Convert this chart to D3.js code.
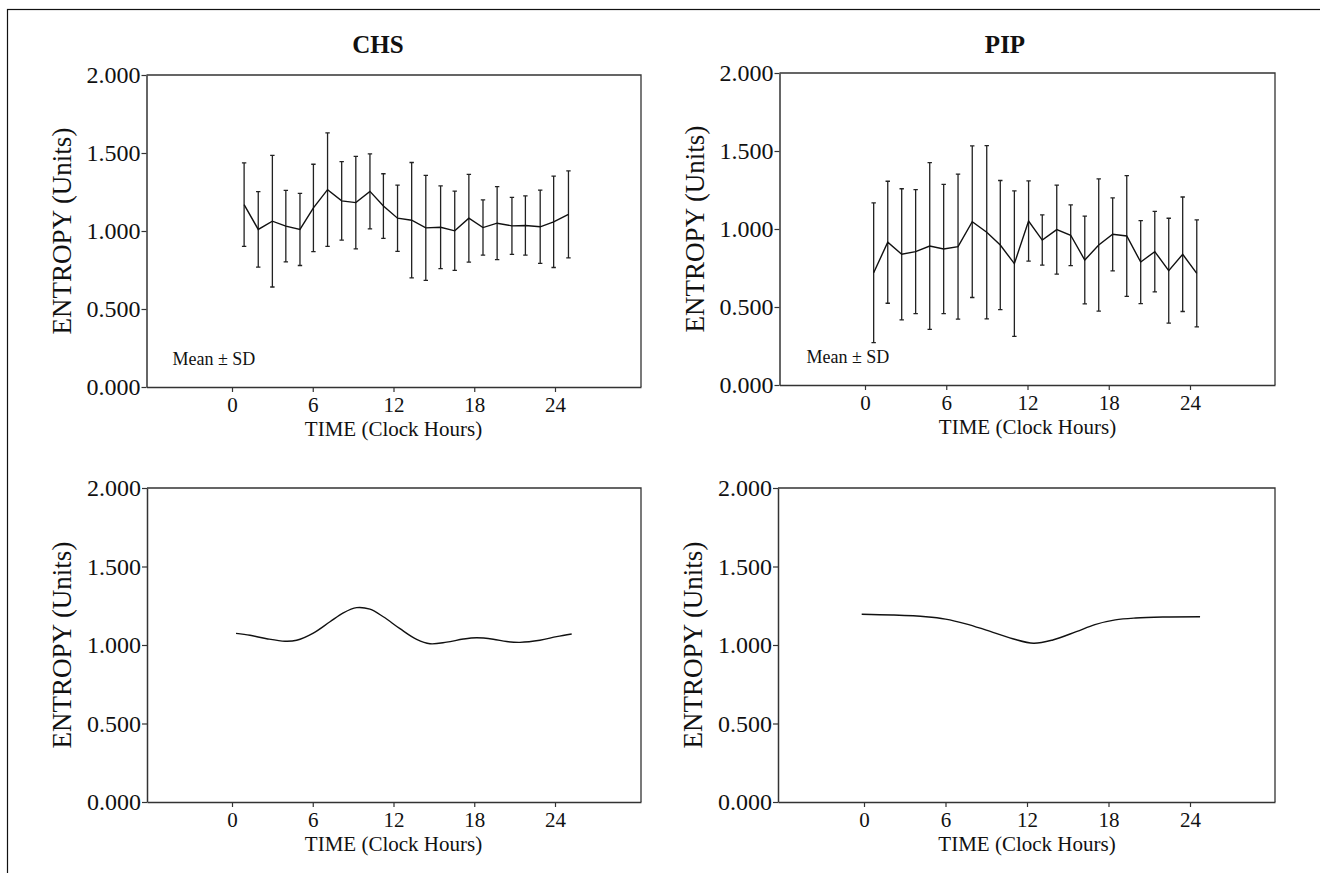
<!DOCTYPE html>
<html>
<head>
<meta charset="utf-8">
<script src="https://cdn.jsdelivr.net/npm/d3@7"></script>
<style>
  body { margin: 0; background: #fff; }
  svg { display: block; }
  text { font-family: "Liberation Serif", "Times New Roman", serif; fill: #111; }
</style>
</head>
<body>
<div id="chart"></div>
<script>
// hours (clock) and mean +- SD of entropy
const chsHours = [0.9, 1.95, 3.0, 4.0, 5.05, 6.05, 7.1, 8.15, 9.2, 10.25, 11.25, 12.3,
  13.35, 14.4, 15.5, 16.55, 17.6, 18.65, 19.7, 20.8, 21.8, 22.9, 23.9, 25.0];
const chsMean = [1.169, 1.010, 1.063, 1.031, 1.010, 1.148, 1.265, 1.193, 1.182, 1.254, 1.160, 1.082,
  1.069, 1.020, 1.024, 1.001, 1.082, 1.022, 1.050, 1.033, 1.035, 1.027, 1.059, 1.107];
const chsSD = [0.268, 0.242, 0.422, 0.229, 0.231, 0.280, 0.364, 0.252, 0.297, 0.241, 0.207, 0.212,
  0.370, 0.337, 0.265, 0.254, 0.281, 0.177, 0.234, 0.183, 0.190, 0.235, 0.293, 0.279];

const pipHours = [0.64, 1.68, 2.71, 3.74, 4.78, 5.81, 6.87, 7.92, 8.99, 9.99, 11.03, 12.08,
  13.09, 14.16, 15.19, 16.23, 17.26, 18.29, 19.33, 20.36, 21.40, 22.43, 23.46, 24.50];
const pipMean = [0.720, 0.915, 0.838, 0.855, 0.891, 0.872, 0.887, 1.047, 0.979, 0.897, 0.778, 1.051,
  0.929, 0.996, 0.960, 0.801, 0.897, 0.966, 0.955, 0.788, 0.855, 0.733, 0.838, 0.716];
const pipSD = [0.448, 0.391, 0.420, 0.397, 0.534, 0.414, 0.465, 0.486, 0.555, 0.414, 0.466, 0.257,
  0.161, 0.285, 0.195, 0.281, 0.424, 0.234, 0.387, 0.266, 0.258, 0.336, 0.367, 0.343];

// fitted curves (bottom row), sampled along the drawn line
const chsFitHours = [0.3, 1.34, 2.58, 3.94, 4.8, 6.04, 7.28, 8.27, 9.26, 10.25, 11.24, 12.48,
  13.72, 14.71, 15.95, 17.19, 18.18, 19.41, 20.41, 21.4, 22.88, 24.12, 25.24];
const chsFitValues = [1.074, 1.062, 1.040, 1.024, 1.030, 1.076, 1.148, 1.205, 1.238, 1.228, 1.180, 1.104,
  1.036, 1.008, 1.018, 1.038, 1.046, 1.037, 1.022, 1.017, 1.030, 1.053, 1.070];

const pipFitHours = [-0.17, 2.09, 4.56, 6.0, 7.5, 9.0, 10.95, 12.48, 13.9, 15.63, 17.0, 18.5,
  20.0, 22.0, 24.74];
const pipFitValues = [1.196, 1.191, 1.180, 1.165, 1.135, 1.095, 1.040, 1.011, 1.032, 1.085, 1.130, 1.160,
  1.172, 1.178, 1.180];

const xTicks = [0, 6, 12, 18, 24];
const yTicks = [0, 0.5, 1, 1.5, 2];
const yDomain = [0, 2];

const width = 1320;
const height = 873;

const svg = d3.select("#chart")
  .append("svg")
  .attr("width", width)
  .attr("height", height);

// outer frame
svg.append("rect")
  .attr("x", 7.5)
  .attr("y", 9.5)
  .attr("width", width)
  .attr("height", height)
  .attr("fill", "none")
  .attr("stroke", "#111")
  .attr("stroke-width", 1.2);

svg.append("text")
  .attr("x", 378)
  .attr("y", 53)
  .attr("text-anchor", "middle")
  .attr("font-size", "25px")
  .attr("font-weight", "bold")
  .text("CHS");

svg.append("text")
  .attr("x", 1005)
  .attr("y", 53)
  .attr("text-anchor", "middle")
  .attr("font-size", "25px")
  .attr("font-weight", "bold")
  .text("PIP");

function drawPanel(box, opts) {
  // hour 0 and hour 24 sit at box.x0 / box.x24, the frame runs wider
  const x = d3.scaleLinear().domain([0, 24]).range([box.x0, box.x24]);
  x.domain([x.invert(box.left), x.invert(box.right)]).range([box.left, box.right]);
  const y = d3.scaleLinear().domain(yDomain).range([box.bottom, box.top]);

  const g = svg.append("g");

  // top and right sides of the box
  g.append("path")
    .attr("d", `M${box.left},${box.top}H${box.right}V${box.bottom}`)
    .attr("fill", "none")
    .attr("stroke", "#333")
    .attr("stroke-width", 1.3);

  const xAxis = g.append("g")
    .attr("transform", `translate(0,${box.bottom})`)
    .call(d3.axisBottom(x).tickValues(xTicks).tickSize(5).tickSizeOuter(0).tickPadding(5));

  const yAxis = g.append("g")
    .attr("transform", `translate(${box.left},0)`)
    .call(d3.axisLeft(y).tickValues(yTicks).tickFormat(d3.format(".3f")).tickSize(5).tickSizeOuter(0).tickPadding(1));

  xAxis.select(".domain").attr("stroke", "#333").attr("stroke-width", 1.5);
  yAxis.select(".domain").attr("stroke", "#333").attr("stroke-width", 1.5);
  xAxis.selectAll(".tick line").attr("stroke", "#333").attr("stroke-width", 1.2);
  yAxis.selectAll(".tick line").attr("stroke", "#333").attr("stroke-width", 1.2);
  xAxis.selectAll(".tick text")
    .attr("font-family", "Liberation Serif, serif")
    .attr("font-size", "21px")
    .attr("fill", "#111");
  yAxis.selectAll(".tick text")
    .attr("font-family", "Liberation Serif, serif")
    .attr("font-size", "24px")
    .attr("fill", "#111");

  g.append("text")
    .attr("x", (x(0) + x(24)) / 2)
    .attr("y", box.bottom + 49)
    .attr("text-anchor", "middle")
    .attr("font-size", "21px")
    .text("TIME (Clock Hours)");

  g.append("text")
    .attr("transform", `translate(${box.left - 76},${(box.top + box.bottom) / 2}) rotate(-90)`)
    .attr("text-anchor", "middle")
    .attr("font-size", "27px")
    .text("ENTROPY (Units)");

  if (opts.mean) {
    const pts = opts.hours.map((h, i) => ({ h: h, m: opts.mean[i], sd: opts.sd[i] }));
    const cap = 2.2;

    g.selectAll(".bar")
      .data(pts)
      .enter()
      .append("path")
      .attr("class", "bar")
      .attr("d", d => {
        const px = x(d.h);
        const hi = y(d.m + d.sd);
        const lo = y(d.m - d.sd);
        return `M${px},${hi}V${lo}M${px - cap},${hi}H${px + cap}M${px - cap},${lo}H${px + cap}`;
      })
      .attr("fill", "none")
      .attr("stroke", "#222")
      .attr("stroke-width", 1.3);

    g.append("path")
      .datum(pts)
      .attr("d", d3.line().x(d => x(d.h)).y(d => y(d.m)))
      .attr("fill", "none")
      .attr("stroke", "#111")
      .attr("stroke-width", 1.4);

    g.append("text")
      .attr("x", box.left + opts.noteDx)
      .attr("y", box.bottom - 22)
      .attr("font-size", "18px")
      .text("Mean \u00b1 SD");
  } else {
    const pts = opts.hours.map((h, i) => ({ h: h, v: opts.values[i] }));
    g.append("path")
      .datum(pts)
      .attr("d", d3.line().curve(d3.curveCatmullRom.alpha(0.5)).x(d => x(d.h)).y(d => y(d.v)))
      .attr("fill", "none")
      .attr("stroke", "#111")
      .attr("stroke-width", 1.4);
  }
}

drawPanel({ left: 146.5, right: 641, top: 75, bottom: 387, x0: 232, x24: 555 },
  { hours: chsHours, mean: chsMean, sd: chsSD, noteDx: 26 });
drawPanel({ left: 779.5, right: 1275, top: 73, bottom: 385, x0: 865, x24: 1190 },
  { hours: pipHours, mean: pipMean, sd: pipSD, noteDx: 27 });
drawPanel({ left: 147, right: 641, top: 488, bottom: 802, x0: 232, x24: 555 },
  { hours: chsFitHours, values: chsFitValues });
drawPanel({ left: 778, right: 1275, top: 488, bottom: 802, x0: 864, x24: 1190 },
  { hours: pipFitHours, values: pipFitValues });
</script>
</body>
</html>
